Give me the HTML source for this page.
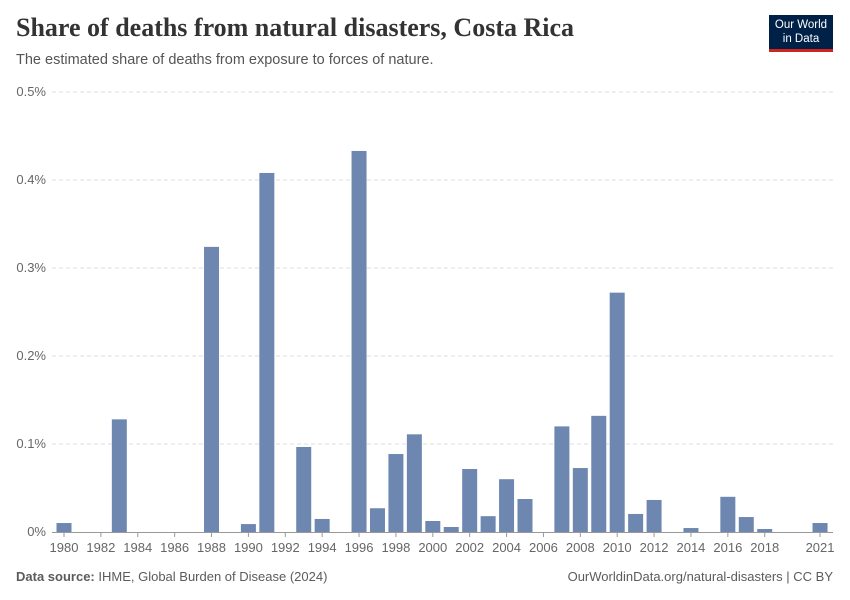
<!DOCTYPE html>
<html><head><meta charset="utf-8"><style>
body{margin:0;background:#fff;width:850px;height:600px;overflow:hidden;font-family:"Liberation Sans",sans-serif}
.t{position:absolute;left:16px;top:13px;font-family:"Liberation Serif",serif;font-size:26px;color:#333;font-weight:bold}
.s{position:absolute;left:16px;top:52px;font-size:14.5px;color:#555}
.logo{position:absolute;left:769px;top:15px;width:64px;height:37px;background:#002147;border-bottom:3px solid #ce261e;color:#fff;font-size:11.5px;text-align:center;line-height:14px;padding-top:3px;box-sizing:border-box}
.f{position:absolute;top:569px;font-size:13px;color:#5b5b5b}
</style></head><body>
<div class="t">Share of deaths from natural disasters, Costa Rica</div>
<div class="s">The estimated share of deaths from exposure to forces of nature.</div>
<div class="logo">Our World<br>in Data</div>
<svg id="c" width="850" height="600" style="position:absolute;left:0;top:0"></svg>
<div class="f" style="left:16px"><b>Data source:</b> IHME, Global Burden of Disease (2024)</div>
<div class="f" style="right:17px">OurWorldinData.org/natural-disasters | CC BY</div>
<script>
const years=[1980,1981,1982,1983,1984,1985,1986,1987,1988,1989,1990,1991,1992,1993,1994,1995,1996,1997,1998,1999,2000,2001,2002,2003,2004,2005,2006,2007,2008,2009,2010,2011,2012,2013,2014,2015,2016,2017,2018,2019,2020,2021];
const values=[0.0102,0,0,0.128,0,0,0,0,0.324,0,0.009,0.408,0,0.0966,0.0148,0,0.433,0.027,0.0886,0.111,0.0125,0.0057,0.0716,0.018,0.060,0.0375,0,0.120,0.0727,0.132,0.272,0.0205,0.0364,0,0.0045,0,0.040,0.017,0.0034,0,0,0.0102];
const yTicks=[0,0.1,0.2,0.3,0.4,0.5];
const xLabels=[1980,1982,1984,1986,1988,1990,1992,1994,1996,1998,2000,2002,2004,2006,2008,2010,2012,2014,2016,2018,2021];
const svg=document.getElementById('c');const NS='http://www.w3.org/2000/svg';
const y=v=>532-v*880;const x=yr=>64+(yr-1980)*18.44;
function mk(t,a){const e=document.createElementNS(NS,t);for(const k in a)e.setAttribute(k,a[k]);svg.appendChild(e);return e;}
yTicks.forEach(v=>{
 if(v>0){const l=mk('line',{x1:52,x2:833,y1:y(v),y2:y(v),stroke:'#ddd','stroke-dasharray':'4,3'});
 
 }
 const t=mk('text',{x:46,y:y(v)+4,'text-anchor':'end','font-size':13,fill:'#666'});t.textContent=v+'%';
 
 
});
years.forEach((yr,i)=>{const r=mk('rect',{x:x(yr)-7.5,y:y(values[i]),width:15,height:532-y(values[i]),fill:'#6d87b1'});
 
 });
const ax=mk('line',{x1:52,x2:833,y1:532.5,y2:532.5,stroke:'#999'});


xLabels.forEach(yr=>{mk('line',{x1:x(yr),x2:x(yr),y1:532,y2:537,stroke:'#999'});
 const t=mk('text',{x:x(yr),y:552,'text-anchor':'middle','font-size':13,fill:'#666'});t.textContent=yr;
 
 });
</script>
</body></html>
